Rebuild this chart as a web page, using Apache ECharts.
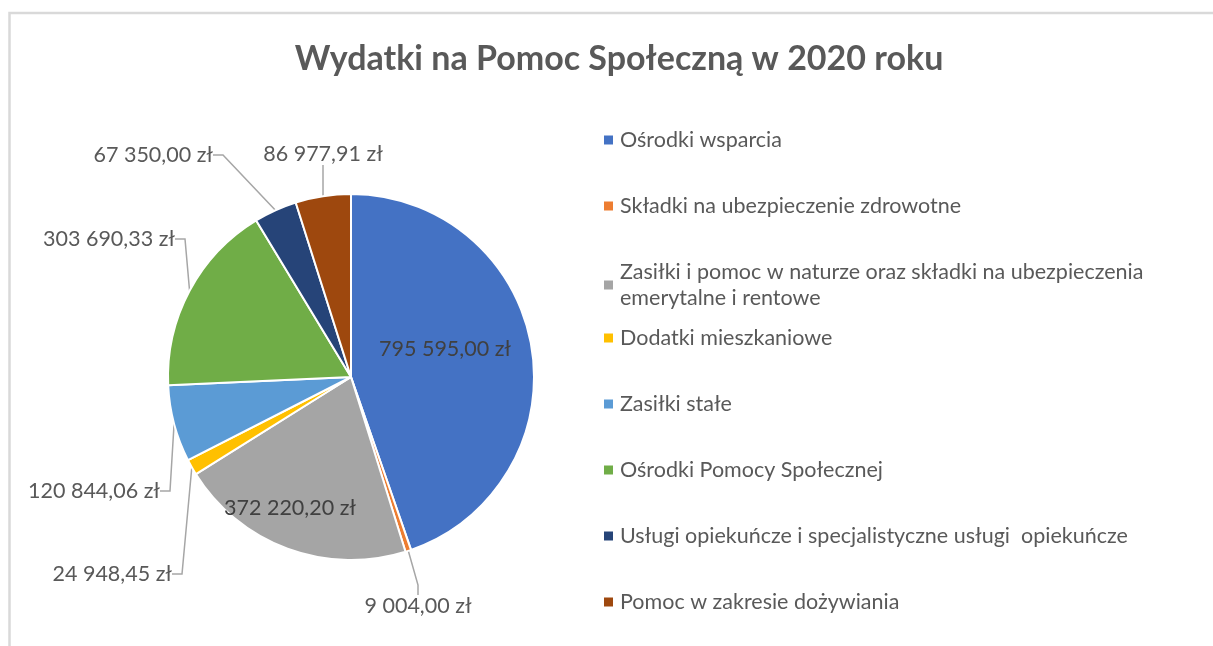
<!DOCTYPE html>
<html>
<head>
<meta charset="utf-8">
<script src="https://cdn.jsdelivr.net/npm/echarts@6/dist/echarts.min.js"></script>
<style>
html,body{margin:0;padding:0;background:#fff;}
#chart{width:1213px;height:646px;}
</style>
</head>
<body>
<div id="chart"></div>
<script>
// ---- data ----
var categories = [
  'Ośrodki wsparcia',
  'Składki na ubezpieczenie zdrowotne',
  'Zasiłki i pomoc w naturze oraz składki na ubezpieczenia emerytalne i rentowe',
  'Dodatki mieszkaniowe',
  'Zasiłki stałe',
  'Ośrodki Pomocy Społecznej',
  'Usługi opiekuńcze i specjalistyczne usługi  opiekuńcze',
  'Pomoc w zakresie dożywiania'
];
var values = [795595.00, 9004.00, 372220.20, 24948.45, 120844.06, 303690.33, 67350.00, 86977.91];
var colors = ['#4472C4', '#ED7D31', '#A5A5A5', '#FFC000', '#5B9BD5', '#70AD47', '#264478', '#9E480E'];
var insideLabel = [true, false, true, false, false, false, false, false];

// label placement (layout only)
var labelPos = [
  {x: 445, y: 349, align: 'center'},
  {x: 418, y: 606, align: 'center'},
  {x: 290, y: 508, align: 'center'},
  {x: 172, y: 574, align: 'right'},
  {x: 160, y: 491, align: 'right'},
  {x: 175, y: 239, align: 'right'},
  {x: 213, y: 155, align: 'right'},
  {x: 323, y: 154, align: 'center'}
];

function fmtPL(v) {
  var parts = v.toFixed(2).split('.');
  var intPart = parts[0].replace(/\B(?=(\d{3})+(?!\d))/g, ' ');
  return intPart + ',' + parts[1] + ' zł';
}

var FONT = 'Lato, "Open Sans", sans-serif';

var chart = echarts.init(document.getElementById('chart'), null, {renderer: 'canvas'});

var data = categories.map(function (name, i) {
  var d = {name: name, value: values[i], itemStyle: {color: colors[i]}};
  if (insideLabel[i]) {
    d.label = {position: 'inside', color: '#404040'};
    d.labelLine = {show: false};
  }
  return d;
});

var legendText = {
  fontFamily: FONT,
  fontSize: 21.5,
  color: '#595959',
  lineHeight: 26,
  padding: [0, 0, 0, 1]
};
function legendFmt(name) {
  return name.replace(' emerytalne', '\nemerytalne');
}
var legendBase = {
  orient: 'vertical',
  left: 597,
  itemGap: 40,
  itemWidth: 11,
  itemHeight: 11,
  icon: 'rect',
  textStyle: legendText,
  formatter: legendFmt,
  selectedMode: false
};

var option = {
  animation: false,
  backgroundColor: '#ffffff',
  graphic: [{
    type: 'rect',
    shape: {x: 9.5, y: 13, width: 1400, height: 800},
    style: {fill: 'none', stroke: '#d9d9d9', lineWidth: 2.5},
    silent: true
  }],
  title: {
    text: 'Wydatki na Pomoc Społeczną w 2020 roku',
    left: 614,
    top: 37,
    textAlign: 'center',
    textStyle: {
      fontFamily: FONT,
      fontSize: 34,
      fontWeight: 'bold',
      color: '#595959'
    }
  },
  legend: [
    Object.assign({}, legendBase, {top: 122, data: categories.slice(0, 3)}),
    Object.assign({}, legendBase, {top: 320, data: categories.slice(3)})
  ],
  series: [{
    type: 'pie',
    center: [351, 377],
    radius: [0, 183],
    startAngle: 90,
    clockwise: true,
    avoidLabelOverlap: false,
    data: data,
    itemStyle: {borderColor: '#ffffff', borderWidth: 2},
    label: {
      show: true,
      position: 'outside',
      formatter: function (p) { return fmtPL(p.value); },
      fontFamily: FONT,
      fontSize: 21.5,
      color: '#595959'
    },
    labelLine: {
      show: true,
      length: 15,
      length2: 10,
      lineStyle: {color: '#a6a6a6', width: 1.5}
    },
    labelLayout: function (params) {
      var p = labelPos[params.dataIndex];
      return {x: p.x, y: p.y, align: p.align, verticalAlign: 'middle'};
    },
    emphasis: {disabled: true}
  }]
};

chart.setOption(option);
</script>
</body>
</html>
